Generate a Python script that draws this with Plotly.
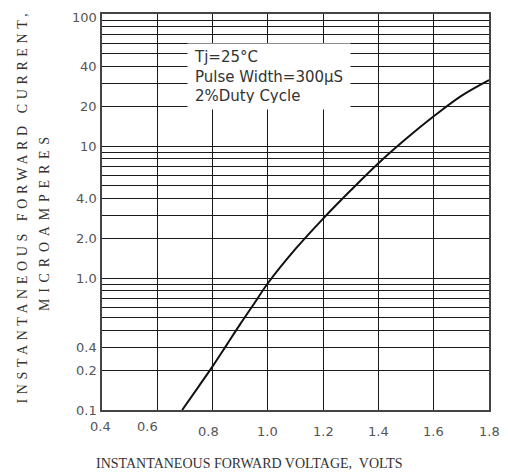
import math
import plotly.graph_objects as go

# ---- data ----
voltage = [0.69, 0.75, 0.80, 0.85, 0.90, 0.95, 1.00, 1.10, 1.20, 1.30, 1.40, 1.50, 1.60, 1.70, 1.80]
current = [0.100, 0.151, 0.214, 0.309, 0.447, 0.638, 0.912, 1.66, 2.82, 4.62, 7.41, 11.35, 16.8, 24.0, 31.6]

x_tick_vals = [0.4, 0.6, 0.8, 1.0, 1.2, 1.4, 1.6, 1.8]
x_tick_text = ["0.4", "0.6", "0.8", "1.0", "1.2", "1.4", "1.6", "1.8"]
y_tick_vals = [0.1, 0.2, 0.3, 1, 2, 4, 10, 20, 40, 100]
y_tick_text = ["0.1", "0.2", "0.4", "1.0", "2.0", "4.0", "10", "20", "40", "100"]
y_grid_vals = [m * d for d in (0.1, 1, 10) for m in range(1, 10)] + [100]

note_text = "Tj=25°C<br>Pulse Width=300μS<br>2%Duty Cycle"
x_title = "INSTANTANEOUS FORWARD VOLTAGE,  VOLTS"
y_title_1 = "INSTANTANEOUS FORWARD CURRENT,"
y_title_2 = "MICROAMPERES"

GRID = "#1a1a1a"
LABEL = "#555555"

fig = go.Figure()
fig.add_trace(go.Scatter(
    x=voltage, y=current, mode="lines",
    line=dict(color="#111111", width=2, shape="spline", smoothing=1.0),
    showlegend=False, hoverinfo="skip",
))

# the page body adds an 8px offset, so the figure is 8px smaller than the window
fig.update_layout(
    width=500, height=468,
    margin=dict(l=94, r=19, t=4, b=66),
    paper_bgcolor="white", plot_bgcolor="white",
    font=dict(family="DejaVu Sans", size=13, color=LABEL),
    xaxis=dict(
        range=[0.4, 1.8], tickmode="array", tickvals=x_tick_vals,
        showticklabels=False, ticks="",
        showgrid=True, gridcolor=GRID, gridwidth=1.3, zeroline=False,
        showline=True, linecolor="#444444", linewidth=2, mirror=True,
    ),
    yaxis=dict(
        type="log", range=[-1, 2], tickmode="array",
        tickvals=y_tick_vals, showticklabels=False, ticks="",
        showgrid=True, gridcolor=GRID, gridwidth=1.3, zeroline=False,
        minor=dict(tickmode="array", tickvals=y_grid_vals, showgrid=True,
                   gridcolor=GRID, gridwidth=1.3, ticks=""),
        showline=True, linecolor="#444444", linewidth=2, mirror=True,
    ),
)

# x tick labels (the first two sit a little higher in the reference)
xshifts = {"0.4": (-2, -16), "0.6": (-10, -16), "0.8": (-4, -21)}
for v, t in zip(x_tick_vals, x_tick_text):
    dx, dy = xshifts.get(t, (0, -21))
    fig.add_annotation(x=v, xref="x", y=0, yref="paper", text=t,
                       showarrow=False, xanchor="center", yanchor="middle",
                       xshift=dx, yshift=dy,
                       font=dict(family="DejaVu Sans", size=13, color=LABEL))

# y tick labels (log axis annotations use log10 units; top one sits just below the frame)
yshifts = {"100": -3}
for v, t in zip(y_tick_vals, y_tick_text):
    fig.add_annotation(x=0, xref="paper", xshift=-3, y=math.log10(v), yref="y",
                       text=t, showarrow=False, xanchor="right", yanchor="middle",
                       yshift=yshifts.get(t, 0),
                       font=dict(family="DejaVu Sans", size=13, color=LABEL))

# condition note with white background covering the grid
fig.add_annotation(
    x=0.7075, xref="x", y=1.78, yref="y", xanchor="left", yanchor="top",
    text=note_text, showarrow=False, align="left", valign="middle",
    bgcolor="white", width=150, height=53, borderpad=6,
    font=dict(family="DejaVu Sans", size=15, color="#333333"),
)

# axis titles
fig.add_annotation(
    x=0.38, xref="paper", y=0, yref="paper", yshift=-53,
    text=x_title, showarrow=False, xanchor="center", yanchor="middle",
    font=dict(family="Liberation Serif", size=14, color="#333333"),
)
fig.add_annotation(
    x=0, xref="paper", xshift=-80, y=0.514, yref="paper",
    text='<span style="letter-spacing:4.6px">' + y_title_1 + "</span>",
    showarrow=False, textangle=-90, xanchor="center", yanchor="middle",
    font=dict(family="Liberation Serif", size=14, color="#333333"),
)
fig.add_annotation(
    x=0, xref="paper", xshift=-58, y=0.477, yref="paper",
    text='<span style="letter-spacing:5.8px">' + y_title_2 + "</span>",
    showarrow=False, textangle=-90, xanchor="center", yanchor="middle",
    font=dict(family="Liberation Serif", size=14, color="#333333"),
)

fig.write_html("out.html")
